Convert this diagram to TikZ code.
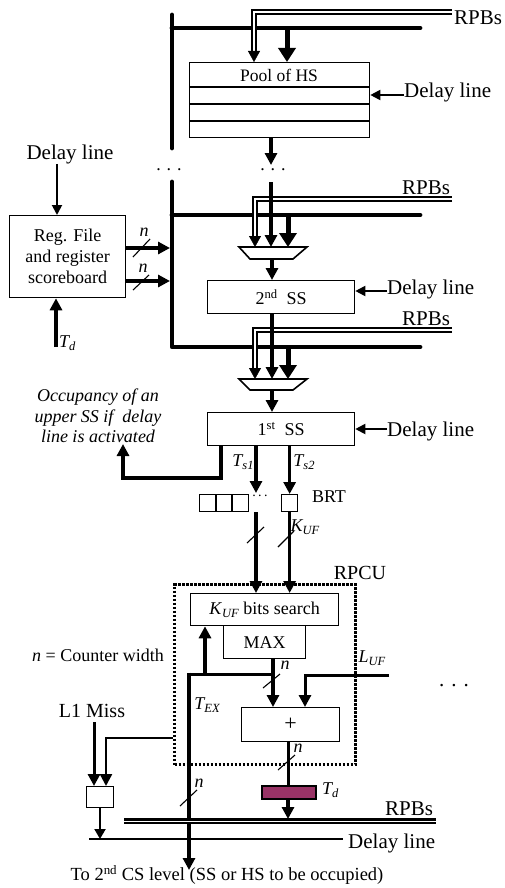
\documentclass[tikz,border=0pt]{standalone}
\usepackage{fontspec}
\setmainfont{Liberation Serif}
\usetikzlibrary{arrows.meta}
\definecolor{regfill}{HTML}{993366}
\newcommand\lbl[2]{\textit{#1}\raisebox{-0.35ex}{\fontsize{12.5}{12.5}\selectfont\textit{#2}}}
\begin{document}
\begin{tikzpicture}[x=1pt,y=-1pt,
  font=\fontsize{18}{21}\selectfont,
  box/.style={draw,line width=1.3pt,inner sep=0pt,anchor=north west},
  bus/.style={line width=4.8pt,line cap=round,line join=round},
  rpb/.style={draw=black,double=white,line width=2pt,double distance=1.4pt,line join=miter},
  rpbb/.style={draw=black,double=white,line width=2.5pt,double distance=1pt},
  rtip/.style={line width=0.4pt,-{Triangle[length=11pt,width=12pt]}},
  arr/.style={line width=3.3pt,-{Triangle[length=12pt,width=12pt]}},
  darr/.style={line width=1.9pt,-{Triangle[length=10pt,width=10pt]}},
  barr/.style={line width=5pt,-{Triangle[length=14pt,width=17pt]}},
  big/.style={font=\fontsize{21}{24}\selectfont,inner sep=0pt},
  mid/.style={font=\fontsize{20}{23}\selectfont,inner sep=0pt},
  lab/.style={font=\fontsize{18}{21}\selectfont\itshape,inner sep=0pt},
  txt/.style={inner sep=0pt},
  slash/.style={line width=1.1pt}
]
\useasboundingbox (0,0) rectangle (504,888);

% ---------- buses ----------
\draw[bus] (172,15) -- (172,148);
\draw[bus] (172,28) -- (420,28);
\node[txt] (dotsA) at (169,170) {.\,\,.\,\,.};
\draw[bus] (172,182) -- (172,347) -- (420,347);
\draw[bus] (172,215) -- (420,215);

% ---------- Pool of HS ----------
\node[box,minimum width=180,minimum height=75] (pool) at (189,62) {};
\foreach \yy in {87,104,121} \draw[line width=1.3pt] (pool.west |- 0,\yy) -- (pool.east |- 0,\yy);
\node[txt,font=\fontsize{17.5}{21}\selectfont] (poolt) at (279,75) {Pool of HS};
\draw[barr] (287,28) -- (287,0 |- pool.north);
\draw[rpb] (452,12) -- (254,12) -- (254,51);
\draw[rtip] (254,51) -- (254,0 |- pool.north);
\node[big,anchor=west] (rpbA) at (454,18) {RPBs};
\node[big,anchor=west] (dl1) at (404,92) {Delay line};
\draw[darr] (dl1.west |- 0,95) -- (pool.east |- 0,95);
\draw[arr] (pool.south -| 271,0) -- (271,165);
\node[txt] (dotsB) at (273,170) {.\,\,.\,\,.};

% ---------- mux 1 / 2nd SS ----------
\draw[rpb] (452,199) -- (255,199) -- (255,236);
\node[big] (rpbB) at (426,188) {RPBs};
\draw[line width=1.6pt] (239,247) -- (307,247) -- (293,259) -- (250,259) -- cycle;
\coordinate (muxA) at (272,253);
\draw[rtip] (255,236) -- (255,247);
\draw[arr] (271,182) -- (271,247);
\draw[barr] (288,215) -- (288,247);
\node[box,minimum width=147,minimum height=33] (ss2) at (207,280) {2\textsuperscript{nd}\ \ SS};
\draw[arr] (muxA |- 0,259) -- (ss2.north -| muxA);
\node[big,anchor=west] (dl2) at (387,289) {Delay line};
\draw[darr] (dl2.west |- 0,291) -- (ss2.east |- 0,291);

% ---------- Reg file ----------
\node[box,minimum width=116,minimum height=82,align=center] (regf) at (9,215) {Reg. File\\and register\\scoreboard};
\node[big] (dl0) at (70,154) {Delay line};
\draw[darr] (57,0 |- dl0.south) -- (57,0 |- regf.north);
\draw[arr] (regf.east |- 0,248) -- (170,248);
\draw[arr] (regf.east |- 0,281) -- (170,281);
\draw[slash] (133,257) -- (150,239);
\draw[slash] (133,290) -- (149,275);
\node[lab] (nA) at (144,232) {n};
\node[lab] (nB) at (143,268) {n};
\draw[arr] (56,347) -- (56,0 |- regf.south);
\node[lab,anchor=west] (tdA) at (59,343) {\lbl{T}{d}};

% ---------- mux 2 / 1st SS ----------
\draw[rpb] (452,330) -- (255,330) -- (255,368);
\node[big] (rpbC) at (426,319) {RPBs};
\draw[line width=1.6pt] (239,379) -- (307,379) -- (293,390) -- (250,390) -- cycle;
\coordinate (muxB) at (272,385);
\draw[rtip] (255,368) -- (255,379);
\draw[arr] (ss2.south -| muxB) -- (272,379);
\draw[barr] (288,347) -- (288,379);
\node[box,minimum width=147,minimum height=33] (ss1) at (207,412) {1\textsuperscript{st}\ \ SS};
\draw[arr] (muxB |- 0,390) -- (ss1.north -| muxB);
\node[big,anchor=west] (dl3) at (387,431) {Delay line};
\draw[darr] (dl3.west |- 0,429) -- (ss1.east |- 0,429);

% occupancy
\node[lab,align=center,font=\fontsize{18}{20.5}\selectfont\itshape] (occ) at (98,416) {Occupancy of an\\upper SS if\ \ delay\\line is activated};
\draw[arr,line join=miter] (ss1.south -| 221,0) -- (221,478) -- (123,478) -- (123,444);

% T_s arrows, BRT
\node[box,minimum width=49,minimum height=17] (bq) at (199,494) {};
\draw[line width=1.3pt] (216,494) -- (216,511) (232,494) -- (232,511);
\node[txt,font=\fontsize{14}{14}\selectfont] (dotsC) at (260,496) {.\,.\,.};
\node[box,minimum width=16,minimum height=17] (brt) at (281,494) {};
\node[txt] (brtt) at (329,497) {BRT};
\draw[arr] (ss1.south -| 256,0) -- (256,493);
\draw[arr] (ss1.south -| brt.north) -- (brt.north);
\node[lab] (ts1) at (243,462) {\lbl{T}{s1}};
\node[lab] (ts2) at (304,462) {\lbl{T}{s2}};

% ---------- RPCU ----------
\node[draw,line width=3pt,dash pattern=on 2.6pt off 1.4pt,inner sep=0pt,anchor=north west,minimum width=181,minimum height=180] (rpcu) at (173,583) {};
\node[mid] (rpcut) at (360,573) {RPCU};
\node[box,minimum width=148,minimum height=32] (kuf) at (190,593) {\lbl{K}{UF} bits search};
\node[box,minimum width=82,minimum height=33] (max) at (223,625) {MAX};
\node[box,minimum width=98,minimum height=34,font=\fontsize{22}{22}\selectfont] (plus) at (241,707) {+};

\draw[arr] (256,512) -- (256,0 |- kuf.north);
\draw[arr] (brt.south) -- (brt.south |- kuf.north);
\draw[slash] (247,543) -- (264,527);
\draw[slash] (278,547) -- (294,531);
\node[lab] (kufl) at (305,527) {\lbl{K}{UF}};

\node[txt] (cw) at (98,655) {\textit{n} = Counter width};

% MAX -> +
\draw[arr] (max.south -| 273,0) -- (273,0 |- plus.north);
\draw[slash] (263,688) -- (280,674);
\node[lab] (nC) at (285,665) {n};
% T_EX
\draw[line width=3pt] (273,674) -- (187,674);
\draw[arr,line width=3.6pt] (205,674) -- (205,0 |- kuf.south);
\draw[arr,line width=4pt] (189,672.5) -- (189,870);
\node[lab] (tex) at (207,705) {\lbl{T}{EX}};
\draw[slash] (180,806) -- (197,790);
\node[lab] (nE) at (199,783) {n};
% L_UF
\draw[arr,line width=3pt,line join=miter] (389,675) -- (305,675) -- (305,0 |- plus.north);
\node[lab] (luf) at (372,658) {\lbl{L}{UF}};
\node[big] (dotsD) at (454,686) {.\,\,.\,\,.};

% + -> Td register
\node[draw,line width=1.8pt,fill=regfill,inner sep=0pt,anchor=north west,minimum width=54,minimum height=13] (tdreg) at (261,785) {};
\draw[line width=3pt] (plus.south -| 288,0) -- (288,0 |- tdreg.north);
\draw[slash] (278,770) -- (295,755);
\node[lab] (nD) at (298,748) {n};
\node[lab,anchor=west] (tdB) at (322,790) {\lbl{T}{d}};
\draw[arr] (tdreg.south -| 288,0) -- (288,819);

% bottom lines
\draw[rpbb] (124,821) -- (436,821);
\node[big] (rpbD) at (409,809) {RPBs};
\draw[line width=1.1pt] (89,839) -- (343,839);
\node[big,anchor=west] (dl4) at (348,843) {Delay line};

% L1 miss
\node[mid] (l1) at (92,711) {L1 Miss};
\node[box,minimum width=27,minimum height=21] (l1box) at (86,786) {};
\draw[arr,line width=3pt] (94,722) -- (94,0 |- l1box.north);
\draw[arr,line width=2.4pt,line join=miter] (rpcu.west |- 0,738) -- (106,738) -- (106,0 |- l1box.north);
\draw[arr,line width=2pt,-{Triangle[length=10pt,width=11pt]}] (l1box.south -| 100,0) -- (100,839);

\node[txt,font=\fontsize{18.5}{21}\selectfont] (bot) at (227,875) {To 2\textsuperscript{nd} CS level (SS or HS to be occupied)};
\end{tikzpicture}
\end{document}
